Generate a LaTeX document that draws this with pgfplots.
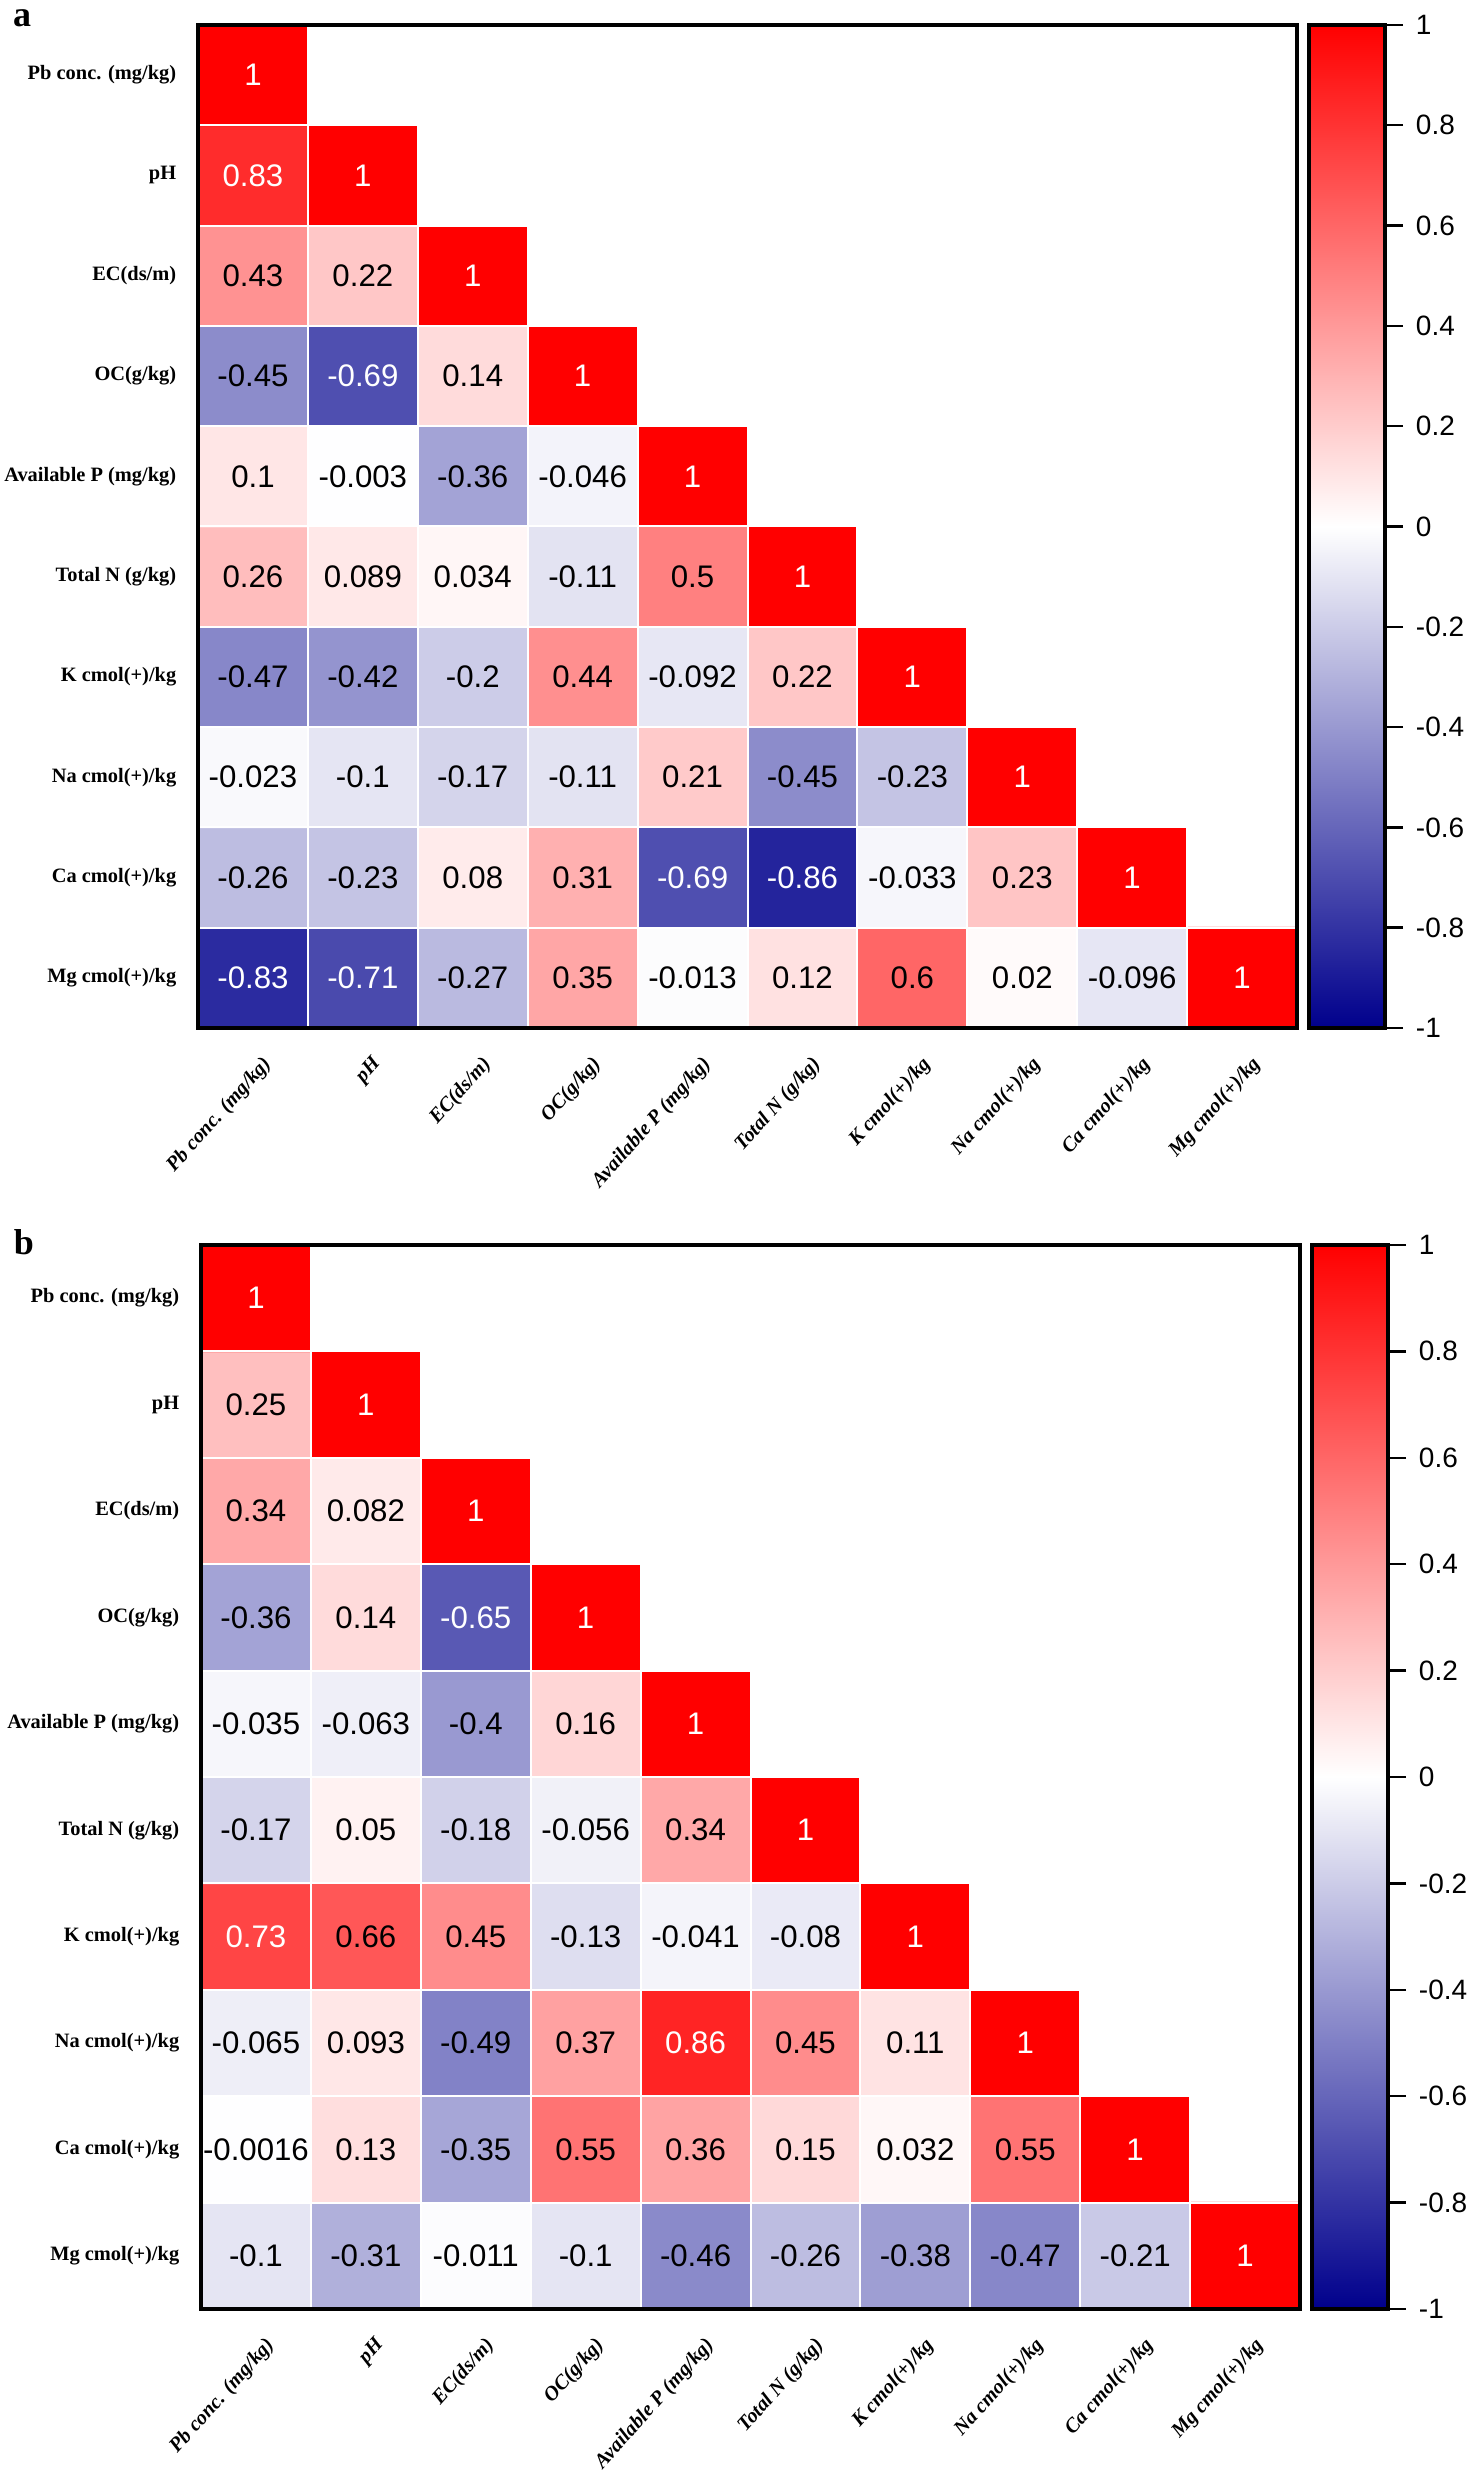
\documentclass[border=0pt]{standalone}
\usepackage{pgfplots}
\pgfplotsset{compat=1.18}
\usepackage{fontspec}
\setmainfont{Liberation Serif}
\newfontfamily\arial{Liberation Sans}
\begin{document}
\begin{tikzpicture}
\useasboundingbox (0,0) rectangle (370.5pt,620pt);
\pgfplotsset{
  corrmap/.style={
    scale only axis, width=274.75pt,
    xmin=-0.5, xmax=9.5, ymin=-0.5, ymax=9.5,
    enlargelimits=false,
    xtick={0,...,9}, ytick={0,...,9},
    xticklabels={Pb conc. (mg/kg), pH, EC(ds/m), OC(g/kg), Available P (mg/kg), Total N (g/kg), K cmol(+)/kg, Na cmol(+)/kg, Ca cmol(+)/kg, Mg cmol(+)/kg},
    yticklabels={Mg cmol(+)/kg, Ca cmol(+)/kg, Na cmol(+)/kg, K cmol(+)/kg, Total N (g/kg), Available P (mg/kg), OC(g/kg), EC(ds/m), pH, Pb conc. (mg/kg)},
    major tick length=0pt, minor tick length=0pt,
    minor xtick={0.5,1.5,...,8.5}, minor ytick={0.5,1.5,...,8.5},
    minor grid style={white, line width=0.5pt},
    xminorgrids=true, yminorgrids=true,
    axis on top,
    axis line style={black, line width=0.9pt},
    yticklabel style={font=\fontsize{5.1}{6}\selectfont\bfseries, inner sep=0pt},
    yticklabel shift=5.25pt,
    xticklabel style={font=\fontsize{5.1}{6}\selectfont\bfseries\itshape, inner sep=0pt, xshift=2pt, yshift=-6.5pt, rotate=48, anchor=north east},
    colormap={bwr}{rgb255=(0,0,140) rgb255=(255,255,255) rgb255=(255,0,0)},
    point meta min=-1, point meta max=1,
    colorbar,
    colorbar/width=19pt,
    colorbar style={
      at={(parent axis.north east)}, anchor=north west, xshift=-5.5pt,
      xtick=\empty,
      xminorgrids=false, yminorgrids=false, xmajorgrids=false, ymajorgrids=false,
      ytick={-1,-0.8,-0.6,-0.4,-0.2,0,0.2,0.4,0.6,0.8,1},
      yticklabels={-1,-0.8,-0.6,-0.4,-0.2,0,0.2,0.4,0.6,0.8,1},
      ytick pos=right, yticklabel pos=right,
      tick align=outside, major tick length=4.5pt,
      ytick style={black, line width=0.6pt},
      yticklabel style={font=\arial\fontsize{7}{8.4}\selectfont, inner sep=0pt},
      yticklabel shift=3pt,
      axis line style={black, line width=0.9pt},
    },
  },
  lab/.style={only marks, mark=none, point meta=explicit symbolic,
    nodes near coords, nodes near coords align=center,
    every node near coord/.append style={font=\arial\fontsize{7.8}{9}\selectfont, text=#1, anchor=center, inner sep=0pt}},
}
% ---------------- panel a ----------------
\begin{axis}[corrmap, at={(49.5pt,363pt)}, anchor=south west, height=250.75pt]
\addplot[matrix plot*, mesh/cols=10, point meta=explicit, unbounded coords=jump]
table[row sep=\\, meta=v]{
x y v\\
0 0 -0.83\\ 1 0 -0.71\\ 2 0 -0.27\\ 3 0 0.35\\ 4 0 -0.013\\ 5 0 0.12\\ 6 0 0.6\\ 7 0 0.02\\ 8 0 -0.096\\ 9 0 1\\
0 1 -0.26\\ 1 1 -0.23\\ 2 1 0.08\\ 3 1 0.31\\ 4 1 -0.69\\ 5 1 -0.86\\ 6 1 -0.033\\ 7 1 0.23\\ 8 1 1\\ 9 1 nan\\
0 2 -0.023\\ 1 2 -0.1\\ 2 2 -0.17\\ 3 2 -0.11\\ 4 2 0.21\\ 5 2 -0.45\\ 6 2 -0.23\\ 7 2 1\\ 8 2 nan\\ 9 2 nan\\
0 3 -0.47\\ 1 3 -0.42\\ 2 3 -0.2\\ 3 3 0.44\\ 4 3 -0.092\\ 5 3 0.22\\ 6 3 1\\ 7 3 nan\\ 8 3 nan\\ 9 3 nan\\
0 4 0.26\\ 1 4 0.089\\ 2 4 0.034\\ 3 4 -0.11\\ 4 4 0.5\\ 5 4 1\\ 6 4 nan\\ 7 4 nan\\ 8 4 nan\\ 9 4 nan\\
0 5 0.1\\ 1 5 -0.003\\ 2 5 -0.36\\ 3 5 -0.046\\ 4 5 1\\ 5 5 nan\\ 6 5 nan\\ 7 5 nan\\ 8 5 nan\\ 9 5 nan\\
0 6 -0.45\\ 1 6 -0.69\\ 2 6 0.14\\ 3 6 1\\ 4 6 nan\\ 5 6 nan\\ 6 6 nan\\ 7 6 nan\\ 8 6 nan\\ 9 6 nan\\
0 7 0.43\\ 1 7 0.22\\ 2 7 1\\ 3 7 nan\\ 4 7 nan\\ 5 7 nan\\ 6 7 nan\\ 7 7 nan\\ 8 7 nan\\ 9 7 nan\\
0 8 0.83\\ 1 8 1\\ 2 8 nan\\ 3 8 nan\\ 4 8 nan\\ 5 8 nan\\ 6 8 nan\\ 7 8 nan\\ 8 8 nan\\ 9 8 nan\\
0 9 1\\ 1 9 nan\\ 2 9 nan\\ 3 9 nan\\ 4 9 nan\\ 5 9 nan\\ 6 9 nan\\ 7 9 nan\\ 8 9 nan\\ 9 9 nan\\
};
\addplot[lab=white] coordinates {
(0,9)[1] (1,8)[1] (2,7)[1] (3,6)[1] (4,5)[1] (5,4)[1] (6,3)[1] (7,2)[1] (8,1)[1] (9,0)[1]
(0,8)[0.83] (1,6)[-0.69] (4,1)[-0.69] (5,1)[-0.86] (0,0)[-0.83] (1,0)[-0.71]};
\addplot[lab=black] coordinates {
(0,7)[0.43] (1,7)[0.22]
(0,6)[-0.45] (2,6)[0.14]
(0,5)[0.1] (1,5)[-0.003] (2,5)[-0.36] (3,5)[-0.046]
(0,4)[0.26] (1,4)[0.089] (2,4)[0.034] (3,4)[-0.11] (4,4)[0.5]
(0,3)[-0.47] (1,3)[-0.42] (2,3)[-0.2] (3,3)[0.44] (4,3)[-0.092] (5,3)[0.22]
(0,2)[-0.023] (1,2)[-0.1] (2,2)[-0.17] (3,2)[-0.11] (4,2)[0.21] (5,2)[-0.45] (6,2)[-0.23]
(0,1)[-0.26] (1,1)[-0.23] (2,1)[0.08] (3,1)[0.31] (6,1)[-0.033] (7,1)[0.23]
(2,0)[-0.27] (3,0)[0.35] (4,0)[-0.013] (5,0)[0.12] (6,0)[0.6] (7,0)[0.02] (8,0)[-0.096]};
\end{axis}
% ---------------- panel b ----------------
\begin{axis}[corrmap, at={(50.25pt,42.75pt)}, anchor=south west, height=266pt]
\addplot[matrix plot*, mesh/cols=10, point meta=explicit, unbounded coords=jump]
table[row sep=\\, meta=v]{
x y v\\
0 0 -0.1\\ 1 0 -0.31\\ 2 0 -0.011\\ 3 0 -0.1\\ 4 0 -0.46\\ 5 0 -0.26\\ 6 0 -0.38\\ 7 0 -0.47\\ 8 0 -0.21\\ 9 0 1\\
0 1 -0.0016\\ 1 1 0.13\\ 2 1 -0.35\\ 3 1 0.55\\ 4 1 0.36\\ 5 1 0.15\\ 6 1 0.032\\ 7 1 0.55\\ 8 1 1\\ 9 1 nan\\
0 2 -0.065\\ 1 2 0.093\\ 2 2 -0.49\\ 3 2 0.37\\ 4 2 0.86\\ 5 2 0.45\\ 6 2 0.11\\ 7 2 1\\ 8 2 nan\\ 9 2 nan\\
0 3 0.73\\ 1 3 0.66\\ 2 3 0.45\\ 3 3 -0.13\\ 4 3 -0.041\\ 5 3 -0.08\\ 6 3 1\\ 7 3 nan\\ 8 3 nan\\ 9 3 nan\\
0 4 -0.17\\ 1 4 0.05\\ 2 4 -0.18\\ 3 4 -0.056\\ 4 4 0.34\\ 5 4 1\\ 6 4 nan\\ 7 4 nan\\ 8 4 nan\\ 9 4 nan\\
0 5 -0.035\\ 1 5 -0.063\\ 2 5 -0.4\\ 3 5 0.16\\ 4 5 1\\ 5 5 nan\\ 6 5 nan\\ 7 5 nan\\ 8 5 nan\\ 9 5 nan\\
0 6 -0.36\\ 1 6 0.14\\ 2 6 -0.65\\ 3 6 1\\ 4 6 nan\\ 5 6 nan\\ 6 6 nan\\ 7 6 nan\\ 8 6 nan\\ 9 6 nan\\
0 7 0.34\\ 1 7 0.082\\ 2 7 1\\ 3 7 nan\\ 4 7 nan\\ 5 7 nan\\ 6 7 nan\\ 7 7 nan\\ 8 7 nan\\ 9 7 nan\\
0 8 0.25\\ 1 8 1\\ 2 8 nan\\ 3 8 nan\\ 4 8 nan\\ 5 8 nan\\ 6 8 nan\\ 7 8 nan\\ 8 8 nan\\ 9 8 nan\\
0 9 1\\ 1 9 nan\\ 2 9 nan\\ 3 9 nan\\ 4 9 nan\\ 5 9 nan\\ 6 9 nan\\ 7 9 nan\\ 8 9 nan\\ 9 9 nan\\
};
\addplot[lab=white] coordinates {
(0,9)[1] (1,8)[1] (2,7)[1] (3,6)[1] (4,5)[1] (5,4)[1] (6,3)[1] (7,2)[1] (8,1)[1] (9,0)[1]
(2,6)[-0.65] (0,3)[0.73] (4,2)[0.86]};
\addplot[lab=black] coordinates {
(0,8)[0.25]
(0,7)[0.34] (1,7)[0.082]
(0,6)[-0.36] (1,6)[0.14]
(0,5)[-0.035] (1,5)[-0.063] (2,5)[-0.4] (3,5)[0.16]
(0,4)[-0.17] (1,4)[0.05] (2,4)[-0.18] (3,4)[-0.056] (4,4)[0.34]
(1,3)[0.66] (2,3)[0.45] (3,3)[-0.13] (4,3)[-0.041] (5,3)[-0.08]
(0,2)[-0.065] (1,2)[0.093] (2,2)[-0.49] (3,2)[0.37] (5,2)[0.45] (6,2)[0.11]
(0,1)[-0.0016] (1,1)[0.13] (2,1)[-0.35] (3,1)[0.55] (4,1)[0.36] (5,1)[0.15] (6,1)[0.032] (7,1)[0.55]
(0,0)[-0.1] (1,0)[-0.31] (2,0)[-0.011] (3,0)[-0.1] (4,0)[-0.46] (5,0)[-0.26] (6,0)[-0.38] (7,0)[-0.47] (8,0)[-0.21]};
\end{axis}
\node[font=\bfseries\fontsize{9}{10}\selectfont, inner sep=0pt] at (5.5pt,615.5pt) {a};
\node[font=\bfseries\fontsize{9}{10}\selectfont, inner sep=0pt] at (6pt,309.5pt) {b};
\end{tikzpicture}
\end{document}
